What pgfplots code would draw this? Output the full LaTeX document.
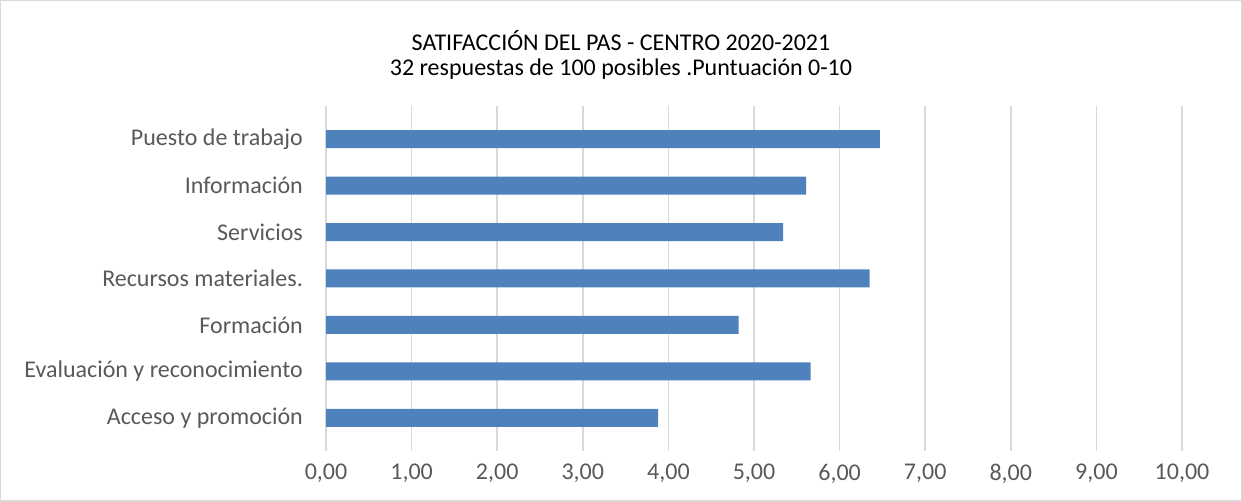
\documentclass[border=0pt]{standalone}
\usepackage{fontspec}
\setmainfont{Carlito}
\usepackage{pgfplots}
\pgfplotsset{compat=1.18}
\definecolor{barblue}{HTML}{4F81BD}
\definecolor{gridgray}{HTML}{D9D9D9}
\definecolor{txtgray}{HTML}{595959}
\begin{document}
\fontsize{24bp}{28bp}\selectfont
\begin{tikzpicture}[x=1bp,y=1bp]
\draw[gridgray, line width=1.5bp] (0.75,0.75) rectangle (1241.25,501.25);
\node[text=black] at (621,461) {SATIFACCIÓN DEL PAS - CENTRO 2020-2021};
\node[text=black] at (621,433) {32 respuestas de 100 posibles .Puntuación 0-10};
\begin{axis}[
  at={(326bp,61bp)}, anchor=south west,
  scale only axis, width=856bp, height=325bp,
  xmin=0, xmax=10, ymin=-0.5, ymax=6.5,
  xbar, bar width=18bp,
  xtick={0,1,...,10}, ytick={0,1,...,6},
  yticklabels={Acceso y promoción, Evaluación y reconocimiento, Formación, Recursos materiales., Servicios, Información, Puesto de trabajo},
  xmajorgrids, grid style={gridgray, line width=1.5bp},
  axis line style={draw=none},
  tick align=outside, major tick length=10bp,
  x tick style={gridgray, line width=1.5bp},
  y tick style={draw=none},
  tick label style={text=txtgray, font=\fontsize{24bp}{28bp}\selectfont},
  y tick label style={xshift=-5bp},
  x tick label style={yshift=-5bp},
  /pgf/number format/.cd, fixed, fixed zerofill, precision=2, use comma, assume math mode=true,
]
\addplot[fill=barblue, draw=none] coordinates {
(3.88,0) (5.66,1) (4.82,2) (6.35,3) (5.34,4) (5.61,5) (6.47,6)
};
\end{axis}
\end{tikzpicture}
\end{document}
